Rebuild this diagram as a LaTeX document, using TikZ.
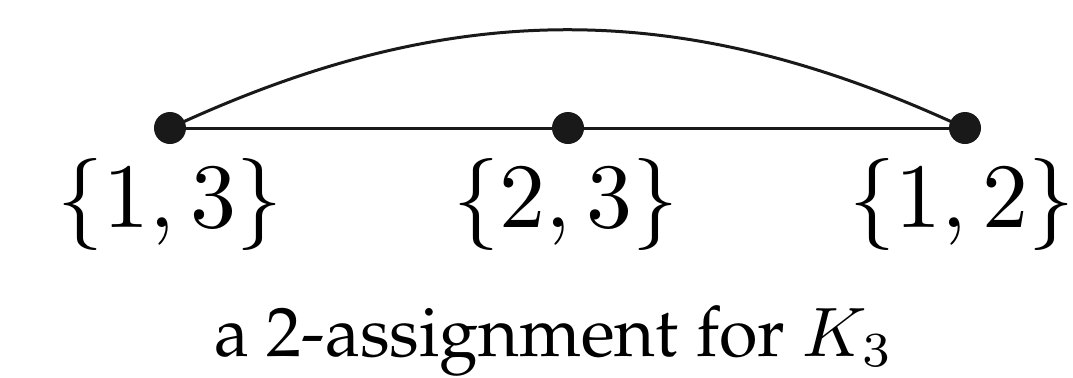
\documentclass[tikz,border=0pt]{standalone}
\usepackage[T1]{fontenc}
\usepackage{tikz}
\usetikzlibrary{positioning}
\tikzset{
  vdot/.style={circle, fill=black!90, inner sep=0pt, minimum size=16pt},
  vlab/.style={anchor=base, inner sep=0pt, scale=4.6},
  edg/.style={line width=1.5pt, black!90},
  captxt/.style={anchor=base, inner sep=0pt, scale=3.5, font=\usefont{T1}{ppl}{m}{n}},
}
\begin{document}
\begin{tikzpicture}[x=1pt,y=1pt]
\useasboundingbox (0,0) rectangle (536.5,188.5);
\node[vdot] (a) at (85,124.5) {};
\node[vdot] (b) at (284,124.5) {};
\node[vdot] (c) at (482.5,124.5) {};
\draw[edg] (a) -- (b) -- (c);
\draw[edg] (a.center) to[bend left=25] (c.center);
\node[vlab] (la) at (85,75) {$\{1,3\}$};
\node[vlab] (lb) at (283,75) {$\{2,3\}$};
\node[vlab] (lc) at (481,75) {$\{1,2\}$};
\node[captxt] (t) at (277,10.5) {a 2-assignment for $K_3$};
\end{tikzpicture}
\end{document}
